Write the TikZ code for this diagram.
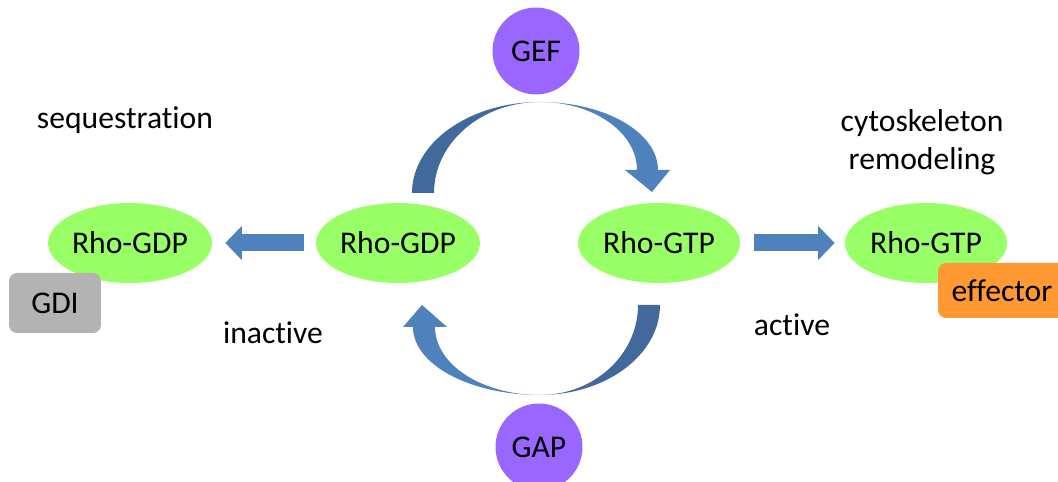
\documentclass[tikz,border=0pt]{standalone}
\usepackage{fontspec}
\setmainfont{Carlito}[RawFeature=-liga]
\usepackage{xcolor}
\usetikzlibrary{arrows.meta,positioning,shapes.geometric}
\definecolor{rhocol}{HTML}{99FF66}
\definecolor{enzcol}{HTML}{9966FF}
\definecolor{gdicol}{HTML}{B3B3B3}
\definecolor{effcol}{HTML}{FF9933}
\definecolor{flowcol}{HTML}{4F81BD}
\definecolor{backcol}{HTML}{41699B}

\begin{document}
\begin{tikzpicture}[x=0.02cm,y=0.02cm,
  font=\fontsize{18}{21.6}\selectfont,
  rho/.style={ellipse,fill=rhocol,minimum width=3.24cm,minimum height=1.6cm,inner sep=0pt},
  enz/.style={circle,fill=enzcol,minimum size=1.74cm,inner sep=0pt},
  tag/.style={rounded corners=0.16cm,inner sep=0pt},
  note/.style={align=center},
  flow/.style={draw=flowcol,line width=0.34cm,-{Triangle[length=0.33cm,width=0.66cm]}},
]
\useasboundingbox (0,0) rectangle (1058,482);

% the four Rho states
\node[rho] (lgdp) at (130,239) {Rho-GDP};
\node[rho] (mgdp) at (398,239) {Rho-GDP};
\node[rho] (mgtp) at (659,239) {Rho-GTP};
\node[rho] (rgtp) at (926,239) {Rho-GTP};

% partners
\node[tag,fill=gdicol,minimum width=1.84cm,minimum height=1.2cm] (gdi) at (55,179) {GDI};
\node[tag,fill=effcol,minimum width=2.56cm,minimum height=1.1cm] (eff) at (1002,191.5) {effector};
\node[enz] (gef) at (536,431) {GEF};
\node[enz] (gap) at (539,35) {GAP};

% labels
\node[note] (seq) at (125,362) {sequestration};
\node[note] (cyto) at (922,340) {cytoskeleton\\remodeling};
\node[note] (inact) at (273,149) {inactive};
\node[note] (act) at (792,157) {active};

% straight arrows
\draw[flow,shorten <=0.24cm,shorten >=0.26cm] (mgdp) -- (lgdp);
\draw[flow,shorten <=0.28cm,shorten >=0.2cm] (mgtp) -- (rgtp);

% activation (GEF), top arc
\coordinate (gefback) at (412,289);
\coordinate (gefpeak) at (540,380);
\fill[backcol] (gefback) arc[start angle=180,end angle=90,x radius=128,y radius=91]
  arc[start angle=90,end angle=180,x radius=106,y radius=91] -- cycle;
\fill[flowcol] (gefpeak) arc[start angle=90,end angle=0,x radius=118,y radius=68]
  -- (670,312) -- (652,290) -- (625,312) -- (637,312)
  arc[start angle=0,end angle=90,x radius=97,y radius=68] -- cycle;

% inactivation (GAP), bottom arc
\coordinate (gapback) at (660,177);
\coordinate (gappeak) at (540,87);
\fill[backcol] (gapback) arc[start angle=0,end angle=-90,x radius=120,y radius=90]
  arc[start angle=-90,end angle=0,x radius=98,y radius=90] -- cycle;
\fill[flowcol] (gappeak) arc[start angle=-90,end angle=-180,x radius=127,y radius=68]
  -- (403,155) -- (422,177) -- (447,155) -- (435,155)
  arc[start angle=180,end angle=270,x radius=105,y radius=68] -- cycle;
\end{tikzpicture}
\end{document}
